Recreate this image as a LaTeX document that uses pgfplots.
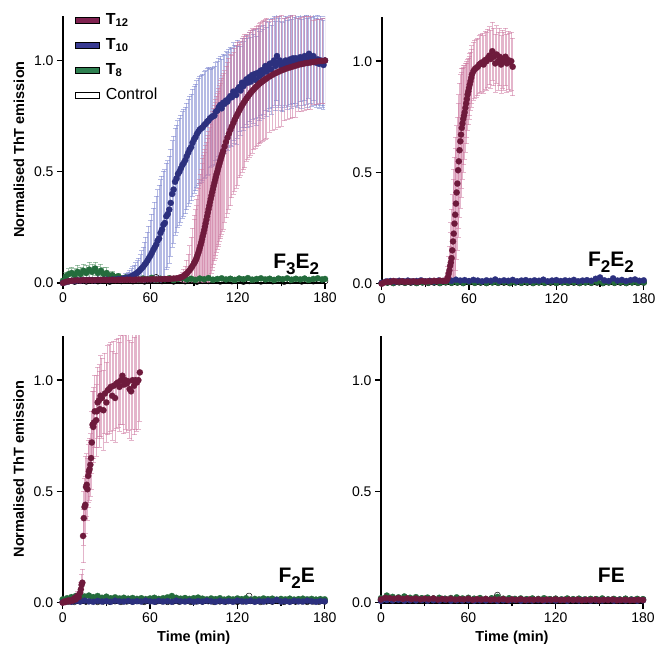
\documentclass[border=0pt]{standalone}
\usepackage{fontspec}
\setmainfont{Liberation Sans}
\usepackage{pgfplots}
\usepackage{pgfplotstable}
\pgfplotsset{compat=1.18}

\definecolor{tA}{RGB}{110,26,60}
\definecolor{tAleg}{RGB}{128,34,80}
\definecolor{tB}{RGB}{44,48,126}
\definecolor{tBleg}{RGB}{56,58,145}
\definecolor{tC}{RGB}{36,108,60}
\definecolor{tCleg}{RGB}{46,128,80}
\definecolor{errA}{RGB}{205,120,160}
\definecolor{errB}{RGB}{120,130,205}
\definecolor{errC}{RGB}{90,150,105}

\newcommand\ticksize{\fontsize{14}{16}\selectfont}
\newcommand\labsize{\fontsize{14.5}{17}\selectfont\bfseries}
\newcommand\panelsize{\fontsize{21}{24}\selectfont\bfseries}
\newcommand\legsize{\fontsize{16}{18}\selectfont}
\newcommand\psub[1]{\raisebox{-6pt}{\fontsize{17}{17}\selectfont #1}}

\pgfplotsset{
  panel/.style={
    scale only axis, width=262pt, height=267pt,
    xmin=0, xmax=180, ymin=0, ymax=1.2,
    axis x line*=bottom, axis y line*=left,
    axis line style={line width=2pt},
    xtick={0,60,120,180}, minor xtick={30,90,150}, ytick={0,0.5,1},
    tick align=outside, major tick length=6pt, minor tick length=3.5pt,
    tick style={black, line width=1.4pt},
    tick label style={font=\ticksize},
    /pgf/number format/assume math mode=true,
    yticklabel style={/pgf/number format/.cd, fixed, fixed zerofill, precision=1},
    xlabel style={at={(axis description cs:0.5,-0.131)}, anchor=center, font=\labsize},
    ylabel style={at={(axis description cs:-0.168,0.5)}, anchor=center, font=\labsize},
    clip=true,
  },
  ebar/.style={forget plot, draw=none, mark=none,
    error bars/.cd, y dir=both, y explicit,
    error bar style={draw=#1, line width=1pt, opacity=0.55, solid},
    error mark options={rotate=90, draw=#1, mark size=2.5pt, line width=0.5pt, opacity=0.55}},
  dots/.style={forget plot, only marks, mark=*, mark size=3.1pt,
    mark options={draw=#1, fill=#1, line width=0.2pt}},
  ctrl/.style={forget plot, only marks, mark=o, mark size=3pt,
    mark options={draw=black, fill=white, line width=0.5pt}},
}

% ---------- F3E2 ----------
\pgfplotstableread{
t y e
0 0.000 0.01
2 0.005 0.01
4 0.008 0.01
6 0.010 0.01
8 0.011 0.01
10 0.012 0.01
12 0.011 0.01
14 0.013 0.01
16 0.012 0.01
18 0.013 0.01
20 0.012 0.01
22 0.013 0.01
24 0.014 0.01
26 0.013 0.01
28 0.014 0.01
30 0.013 0.01
32 0.014 0.01
34 0.014 0.01
36 0.013 0.01
38 0.014 0.01
40 0.015 0.01
42 0.014 0.01
44 0.015 0.01
46 0.015 0.01
48 0.014 0.01
50 0.015 0.01
52 0.016 0.01
54 0.015 0.01
56 0.016 0.01
58 0.016 0.01
60 0.016 0.01
62 0.017 0.01
64 0.016 0.01
66 0.017 0.01
68 0.017 0.01
70 0.018 0.01
72 0.018 0.01
74 0.019 0.01
76 0.020 0.01
78 0.021 0.01
80 0.023 0.01
81 0.025 0.015
82 0.028 0.02
83 0.032 0.03
84 0.037 0.04
85 0.043 0.06
86 0.050 0.08
87 0.058 0.11
88 0.067 0.14
89 0.077 0.17
90 0.088 0.20
90.5 0.094 0.21
91 0.100 0.23
91.5 0.108 0.24
92 0.117 0.26
92.5 0.126 0.27
93 0.136 0.29
93.5 0.147 0.30
94 0.158 0.31
94.5 0.170 0.32
95 0.183 0.33
95.5 0.196 0.34
96 0.210 0.35
96.5 0.224 0.35
97 0.238 0.35
97.5 0.253 0.35
98 0.268 0.35
98.5 0.284 0.35
99 0.300 0.35
99.5 0.316 0.35
100 0.332 0.35
100.5 0.348 0.35
101 0.363 0.35
101.5 0.378 0.35
102 0.393 0.35
102.5 0.408 0.35
103 0.422 0.35
103.5 0.436 0.35
104 0.450 0.35
104.5 0.463 0.35
105 0.476 0.35
105.5 0.489 0.35
106 0.501 0.35
106.5 0.513 0.35
107 0.525 0.35
107.5 0.537 0.35
108 0.549 0.35
108.5 0.560 0.35
109 0.571 0.35
109.5 0.582 0.35
110 0.593 0.35
111 0.614 0.34
112 0.634 0.34
113 0.653 0.34
114 0.671 0.34
115 0.688 0.34
116 0.704 0.32
117 0.719 0.32
118 0.734 0.32
119 0.748 0.32
120 0.761 0.32
121 0.774 0.30
122 0.786 0.30
123 0.798 0.30
124 0.809 0.30
125 0.819 0.30
126 0.829 0.28
127 0.838 0.28
128 0.847 0.28
129 0.855 0.28
130 0.863 0.28
131 0.870 0.27
132 0.877 0.27
133 0.884 0.27
134 0.890 0.27
135 0.896 0.27
136 0.901 0.27
137 0.906 0.27
138 0.911 0.27
139 0.916 0.27
140 0.920 0.27
142 0.928 0.25
144 0.936 0.25
146 0.943 0.25
148 0.949 0.25
150 0.955 0.25
152 0.960 0.23
154 0.965 0.23
156 0.969 0.23
158 0.973 0.23
160 0.977 0.23
162 0.981 0.21
164 0.984 0.21
166 0.987 0.21
168 0.989 0.21
170 0.991 0.21
172 0.993 0.19
174 0.995 0.19
176 0.997 0.19
178 0.998 0.19
180 1.000 0.19
}\pAtw

\pgfplotstableread{
t y e
0 0.000 0.01
2 0.004 0.01
4 0.008 0.01
6 0.010 0.01
8 0.009 0.01
10 0.012 0.01
12 0.011 0.01
14 0.013 0.01
16 0.012 0.01
18 0.014 0.01
20 0.013 0.01
22 0.012 0.01
24 0.015 0.01
26 0.013 0.01
28 0.014 0.01
30 0.015 0.01
32 0.013 0.01
34 0.016 0.01
36 0.015 0.01
38 0.018 0.01
40 0.017 0.01
41 0.020 0.015
42 0.019 0.015
43 0.022 0.02
44 0.024 0.02
45 0.023 0.025
46 0.027 0.03
47 0.030 0.035
48 0.034 0.04
49 0.036 0.045
50 0.042 0.05
51 0.045 0.055
52 0.052 0.06
53 0.058 0.07
54 0.066 0.08
55 0.072 0.09
56 0.082 0.10
57 0.090 0.115
58 0.100 0.13
59 0.112 0.145
60 0.122 0.16
61 0.135 0.175
62 0.148 0.19
63 0.160 0.205
64 0.172 0.22
65 0.190 0.23
66 0.200 0.24
67 0.225 0.24
68 0.240 0.24
69 0.262 0.24
70 0.270 0.24
71 0.300 0.24
72 0.310 0.24
73 0.330 0.24
74 0.360 0.24
75 0.400 0.24
76 0.420 0.24
77 0.455 0.24
78 0.470 0.24
79 0.490 0.24
80 0.500 0.24
81 0.515 0.24
82 0.530 0.24
83 0.540 0.24
84 0.552 0.24
85 0.570 0.24
86 0.585 0.24
87 0.600 0.24
88 0.610 0.24
89 0.630 0.24
90 0.645 0.24
91 0.655 0.24
92 0.670 0.24
93 0.680 0.24
94 0.690 0.24
95 0.695 0.24
96 0.700 0.24
97 0.710 0.24
98 0.715 0.24
99 0.725 0.24
100 0.730 0.24
101 0.740 0.22
102 0.745 0.22
103 0.750 0.22
104 0.752 0.22
105 0.770 0.22
106 0.775 0.22
107 0.790 0.22
108 0.800 0.22
109 0.785 0.22
110 0.810 0.22
111 0.805 0.22
112 0.820 0.22
113 0.815 0.22
114 0.830 0.22
115 0.840 0.22
116 0.835 0.22
117 0.860 0.22
118 0.850 0.22
119 0.845 0.22
120 0.870 0.22
121 0.880 0.20
122 0.865 0.20
123 0.900 0.20
124 0.885 0.20
125 0.900 0.20
126 0.915 0.20
127 0.900 0.20
128 0.925 0.20
129 0.905 0.20
130 0.935 0.20
131 0.920 0.20
132 0.940 0.20
133 0.910 0.20
134 0.945 0.20
135 0.930 0.20
136 0.955 0.20
137 0.940 0.20
138 0.960 0.20
139 0.975 0.20
140 0.950 0.20
141 0.970 0.20
142 0.985 0.20
143 0.960 0.20
144 0.990 0.20
145 1.000 0.20
146 0.975 0.20
147 1.020 0.20
148 0.990 0.20
149 1.000 0.20
150 0.975 0.20
151 0.970 0.20
152 0.990 0.20
153 1.000 0.20
154 0.980 0.20
155 0.995 0.20
156 1.005 0.20
157 0.985 0.20
158 1.010 0.20
159 0.995 0.20
160 1.010 0.20
161 0.990 0.20
162 1.000 0.20
163 1.015 0.20
164 0.985 0.20
165 1.000 0.20
166 1.020 0.20
167 1.005 0.20
168 0.990 0.20
169 1.030 0.20
170 1.010 0.20
171 0.995 0.20
172 1.020 0.20
173 1.000 0.20
174 0.990 0.20
175 1.005 0.20
176 0.985 0.20
177 1.000 0.20
178 0.990 0.20
179 0.980 0.20
180 1.000 0.20
}\pAte

\pgfplotstableread{
t y e
0 0.010 0.01
2 0.030 0.02
4 0.040 0.025
6 0.045 0.025
8 0.035 0.03
10 0.050 0.03
12 0.040 0.03
14 0.055 0.03
16 0.045 0.035
18 0.060 0.035
20 0.050 0.035
22 0.065 0.03
24 0.045 0.03
26 0.055 0.03
28 0.040 0.03
30 0.045 0.025
32 0.030 0.02
34 0.035 0.02
36 0.025 0.015
38 0.030 0.015
40 0.020 0.01
43 0.025 0.01
46 0.018 0.01
49 0.022 0.01
52 0.015 0.01
55 0.020 0.01
58 0.017 0.01
61 0.023 0.01
64 0.015 0.01
67 0.019 0.01
70 0.016 0.01
73 0.021 0.01
76 0.014 0.01
79 0.018 0.01
82 0.022 0.01
85 0.016 0.01
88 0.019 0.01
91 0.014 0.01
94 0.020 0.01
97 0.017 0.01
100 0.022 0.01
103 0.015 0.01
106 0.018 0.01
109 0.021 0.01
112 0.016 0.01
115 0.019 0.01
118 0.014 0.01
121 0.020 0.01
124 0.017 0.01
127 0.022 0.01
130 0.015 0.01
133 0.018 0.01
136 0.021 0.01
139 0.016 0.01
142 0.019 0.01
145 0.014 0.01
148 0.020 0.01
151 0.017 0.01
154 0.021 0.01
157 0.015 0.01
160 0.019 0.01
163 0.016 0.01
166 0.020 0.01
169 0.014 0.01
172 0.018 0.01
175 0.021 0.01
178 0.016 0.01
180 0.018 0.01
}\pAei

\pgfplotstableread{
t y
0 0.004
4 0.008
8 0.006
12 0.010
16 0.007
20 0.012
24 0.008
28 0.010
32 0.006
36 0.011
40 0.009
44 0.013
48 0.008
52 0.010
56 0.007
60 0.012
64 0.025
68 0.009
72 0.011
76 0.007
80 0.010
84 0.008
88 0.012
92 0.006
96 0.010
100 0.009
104 0.011
108 0.007
112 0.010
116 0.008
120 0.012
124 0.006
128 0.009
132 0.011
136 0.007
140 0.010
144 0.008
148 0.012
152 0.006
156 0.009
160 0.011
164 0.007
168 0.010
172 0.008
176 0.011
180 0.009
}\pActl

% ---------- F2E2 ----------
\pgfplotstableread{
t y e
0 0.000 0.01
2 0.006 0.01
4 0.009 0.01
6 0.008 0.01
8 0.012 0.01
10 0.010 0.01
12 0.009 0.01
14 0.011 0.01
16 0.008 0.01
18 0.010 0.01
20 0.009 0.01
22 0.011 0.01
24 0.008 0.01
26 0.010 0.01
28 0.012 0.01
30 0.009 0.01
32 0.011 0.01
34 0.010 0.01
36 0.013 0.01
38 0.011 0.01
40 0.014 0.01
42 0.012 0.01
44 0.012 0.015
44.5 0.015 0.02
45 0.020 0.03
45.5 0.030 0.05
46 0.045 0.08
46.5 0.060 0.11
47 0.080 0.15
47.5 0.095 0.18
48 0.115 0.22
48.5 0.150 0.25
49 0.190 0.28
49.5 0.225 0.29
50 0.270 0.30
50.5 0.310 0.30
51 0.360 0.30
51.5 0.410 0.30
52 0.450 0.30
52.5 0.510 0.30
53 0.550 0.30
53.5 0.600 0.30
54 0.640 0.30
54.5 0.670 0.28
55 0.700 0.27
55.5 0.720 0.25
56 0.740 0.24
56.5 0.755 0.22
57 0.770 0.21
57.5 0.790 0.20
58 0.810 0.18
58.5 0.830 0.17
59 0.850 0.16
59.5 0.865 0.15
60 0.880 0.14
60.5 0.895 0.14
61 0.910 0.13
61.5 0.925 0.13
62 0.940 0.13
63 0.955 0.13
64 0.965 0.13
65 0.970 0.13
66 0.975 0.13
67 0.985 0.13
68 0.990 0.13
69 0.995 0.13
70 0.985 0.13
71 1.005 0.13
72 1.000 0.13
73 1.015 0.13
74 1.025 0.13
75 1.010 0.13
76 1.045 0.13
77 1.020 0.13
78 0.990 0.13
79 1.030 0.13
80 1.000 0.13
81 1.020 0.13
82 0.985 0.13
83 1.010 0.13
84 1.000 0.13
85 1.020 0.13
86 0.990 0.13
87 1.005 0.13
88 0.995 0.13
89 1.000 0.13
90 0.975 0.13
}\pBtw

\pgfplotstableread{
t y
0 0.004
3 0.010
6 0.012
9 0.009
12 0.013
15 0.011
18 0.014
21 0.010
24 0.012
27 0.015
30 0.011
33 0.013
36 0.010
39 0.014
42 0.012
45 0.016
48 0.013
51 0.018
54 0.014
57 0.016
60 0.012
63 0.017
66 0.014
69 0.011
72 0.015
75 0.013
78 0.019
81 0.012
84 0.015
87 0.013
90 0.017
93 0.011
96 0.014
99 0.016
102 0.012
105 0.015
108 0.013
111 0.018
114 0.011
117 0.014
120 0.016
123 0.012
126 0.015
129 0.013
132 0.017
135 0.011
138 0.014
141 0.016
144 0.013
147 0.022
150 0.028
153 0.015
156 0.012
159 0.024
162 0.014
165 0.017
168 0.012
171 0.016
174 0.019
177 0.013
180 0.015
}\pBte

\pgfplotstableread{
t y
0 0.003
4 0.006
8 0.004
12 0.007
16 0.005
20 0.008
24 0.004
28 0.006
32 0.005
36 0.008
40 0.004
44 0.007
48 0.005
52 0.006
56 0.004
60 0.008
64 0.005
68 0.007
72 0.004
76 0.006
80 0.005
84 0.008
88 0.004
92 0.006
96 0.005
100 0.007
104 0.004
108 0.006
112 0.005
116 0.008
120 0.004
124 0.006
128 0.005
132 0.007
136 0.004
140 0.006
144 0.005
148 0.008
152 0.004
156 0.006
160 0.005
164 0.007
168 0.004
172 0.006
176 0.005
180 0.006
}\pBei

\pgfplotstableread{
t y
0 0.002
4 0.005
8 0.003
12 0.006
16 0.004
20 0.005
24 0.003
28 0.006
32 0.004
36 0.005
40 0.003
44 0.006
48 0.004
52 0.005
56 0.003
60 0.006
64 0.004
68 0.005
72 0.003
76 0.006
80 0.004
84 0.005
88 0.003
92 0.006
96 0.004
100 0.005
104 0.003
108 0.006
112 0.004
116 0.005
120 0.003
124 0.006
128 0.004
132 0.005
136 0.003
140 0.006
144 0.004
148 0.005
152 0.003
156 0.006
160 0.004
164 0.005
168 0.003
172 0.006
176 0.004
180 0.005
}\pBctl

% ---------- F2E ----------
\pgfplotstableread{
t y e
0 0.000 0.01
1 0.005 0.01
2 0.003 0.01
3 0.008 0.01
4 0.010 0.01
5 0.006 0.01
6 0.012 0.01
7 0.010 0.01
8 0.020 0.015
9 0.015 0.015
10 0.030 0.02
11 0.025 0.02
12 0.045 0.02
12.5 0.060 0.03
13 0.080 0.05
13.5 0.090 0.06
14 0.300 0.12
14.5 0.380 0.12
15 0.430 0.13
15.5 0.440 0.13
16 0.520 0.14
16.5 0.530 0.14
17 0.510 0.14
17.5 0.570 0.14
18 0.590 0.14
18.5 0.600 0.14
19 0.620 0.14
19.5 0.650 0.14
20 0.720 0.14
20.5 0.800 0.15
21 0.790 0.16
21.5 0.810 0.16
22 0.860 0.16
23 0.820 0.16
23.5 0.860 0.16
24 0.900 0.16
25 0.910 0.16
25.5 0.870 0.17
26 0.930 0.18
27 0.920 0.18
28 0.865 0.18
29 0.940 0.18
30 0.900 0.18
31 0.955 0.20
32 0.960 0.20
33 0.970 0.20
34 0.930 0.20
35 0.975 0.20
36 0.920 0.20
37 0.985 0.20
38 0.990 0.20
39 0.970 0.20
40 1.000 0.20
41 1.020 0.22
42 0.980 0.22
43 1.000 0.22
44 0.985 0.22
45 0.995 0.22
46 0.960 0.22
47 0.950 0.22
48 1.000 0.22
49 0.975 0.22
50 1.000 0.22
51 0.990 0.22
52 1.000 0.22
53 1.035 0.22
}\pCtw

\pgfplotstableread{
t y
0 0.002
3 0.006
6 0.004
9 0.008
12 0.005
15 0.009
18 0.006
21 0.004
24 0.008
27 0.005
30 0.007
33 0.004
36 0.009
39 0.006
42 0.005
45 0.008
48 0.004
51 0.007
54 0.005
57 0.009
60 0.006
63 0.004
66 0.008
69 0.005
72 0.007
75 0.004
78 0.009
81 0.006
84 0.005
87 0.008
90 0.004
93 0.007
96 0.005
99 0.009
102 0.006
105 0.004
108 0.008
111 0.005
114 0.007
117 0.004
120 0.009
123 0.006
126 0.005
129 0.008
132 0.004
135 0.007
138 0.005
141 0.009
144 0.006
147 0.012
150 0.005
153 0.007
156 0.004
159 0.008
162 0.006
165 0.005
168 0.009
171 0.006
174 0.004
177 0.007
180 0.006
}\pCte

\pgfplotstableread{
t y
0 0.015
3 0.020
6 0.025
9 0.030
12 0.022
15 0.028
18 0.032
21 0.025
24 0.030
27 0.022
30 0.027
33 0.020
36 0.024
39 0.019
42 0.022
45 0.018
48 0.021
51 0.017
54 0.020
57 0.016
60 0.019
63 0.022
66 0.017
69 0.020
72 0.024
75 0.030
78 0.022
81 0.018
84 0.021
87 0.017
90 0.020
93 0.023
96 0.018
99 0.015
102 0.019
105 0.016
108 0.020
111 0.014
114 0.018
117 0.015
120 0.019
123 0.016
126 0.020
129 0.014
132 0.017
135 0.015
138 0.019
141 0.016
144 0.018
147 0.014
150 0.017
153 0.015
156 0.018
159 0.014
162 0.016
165 0.018
168 0.015
171 0.017
174 0.014
177 0.016
180 0.015
}\pCei

\pgfplotstableread{
t y
0 0.003
4 0.006
8 0.004
12 0.007
16 0.005
20 0.008
24 0.004
28 0.006
32 0.005
36 0.007
40 0.004
44 0.006
48 0.005
52 0.008
56 0.004
60 0.006
64 0.005
68 0.007
72 0.004
76 0.006
80 0.005
84 0.008
88 0.004
92 0.006
96 0.005
100 0.007
104 0.004
108 0.006
112 0.005
116 0.008
120 0.004
124 0.006
128 0.030
132 0.007
136 0.004
140 0.006
144 0.005
148 0.008
152 0.004
156 0.006
160 0.005
164 0.007
168 0.004
172 0.006
176 0.005
180 0.006
}\pCctl

% ---------- FE ----------
\pgfplotstableread{
t y
0 0.015
3 0.022
6 0.020
9 0.018
12 0.021
15 0.017
18 0.020
21 0.016
24 0.019
27 0.015
30 0.018
33 0.016
36 0.019
39 0.014
42 0.017
45 0.015
48 0.018
51 0.014
54 0.016
57 0.015
60 0.018
63 0.013
66 0.016
69 0.014
72 0.017
75 0.013
78 0.015
81 0.014
84 0.016
87 0.012
90 0.015
93 0.013
96 0.016
99 0.012
102 0.014
105 0.013
108 0.015
111 0.012
114 0.014
117 0.013
120 0.015
123 0.012
126 0.013
129 0.014
132 0.012
135 0.014
138 0.011
141 0.013
144 0.012
147 0.014
150 0.011
153 0.013
156 0.012
159 0.014
162 0.011
165 0.012
168 0.013
171 0.011
174 0.012
177 0.013
180 0.012
}\pDtw

\pgfplotstableread{
t y
0 0.008
4 0.012
8 0.010
12 0.013
16 0.009
20 0.011
24 0.010
28 0.012
32 0.009
36 0.011
40 0.010
44 0.013
48 0.009
52 0.011
56 0.010
60 0.012
64 0.009
68 0.011
72 0.010
76 0.012
80 0.009
84 0.011
88 0.010
92 0.012
96 0.009
100 0.011
104 0.010
108 0.012
112 0.009
116 0.011
120 0.010
124 0.012
128 0.009
132 0.011
136 0.010
140 0.012
144 0.009
148 0.011
152 0.010
156 0.012
160 0.009
164 0.011
168 0.010
172 0.012
176 0.009
180 0.011
}\pDte

\pgfplotstableread{
t y
0 0.020
4 0.032
8 0.026
12 0.024
16 0.028
20 0.022
24 0.025
28 0.020
32 0.023
36 0.019
40 0.022
44 0.018
48 0.021
52 0.024
56 0.019
60 0.022
64 0.018
68 0.021
72 0.017
76 0.020
80 0.026
84 0.018
88 0.020
92 0.017
96 0.019
100 0.016
104 0.019
108 0.017
112 0.020
116 0.016
120 0.018
124 0.015
128 0.019
132 0.016
136 0.018
140 0.015
144 0.017
148 0.016
152 0.019
156 0.015
160 0.017
164 0.014
168 0.018
172 0.015
176 0.017
180 0.016
}\pDei

\pgfplotstableread{
t y
0 0.012
4 0.018
8 0.015
12 0.020
16 0.014
20 0.017
24 0.013
28 0.019
32 0.015
36 0.018
40 0.014
44 0.016
48 0.013
52 0.017
56 0.015
60 0.018
64 0.014
68 0.016
72 0.013
76 0.018
80 0.034
84 0.015
88 0.017
92 0.013
96 0.016
100 0.014
104 0.017
108 0.013
112 0.016
116 0.014
120 0.017
124 0.013
128 0.015
132 0.014
136 0.016
140 0.013
144 0.015
148 0.014
152 0.016
156 0.013
160 0.015
164 0.014
168 0.016
172 0.013
176 0.015
180 0.014
}\pDctl

\begin{document}
\begin{tikzpicture}
\useasboundingbox (0,0) rectangle (657pt,648pt);

% top left: F3E2
\begin{axis}[panel, at={(63pt,365pt)}, anchor=south west,
    ylabel={Normalised ThT emission},
    legend style={at={(0.046,1.018)}, anchor=north west, draw=none, fill=none,
      font=\legsize, row sep=7pt, inner sep=0pt,
      nodes={inner sep=1pt, text height=12pt, text depth=4pt}},
    legend cell align=left,
    legend image code/.code={%
      \draw[#1, draw=black, line width=0.6pt] (0pt,-3pt) rectangle (24pt,3pt);
      \path (29pt,0pt);}]
\addplot[ebar=errC] table[x=t, y=y, y error=e] {\pAei};
\addplot[ebar=errB] table[x=t, y=y, y error=e] {\pAte};
\addplot[ebar=errA] table[x=t, y=y, y error=e] {\pAtw};
\addplot[ctrl] table[x=t, y=y] {\pActl};
\addplot[dots=tC] table[x=t, y=y] {\pAei};
\addplot[dots=tB] table[x=t, y=y] {\pAte};
\addplot[dots=tA] table[x=t, y=y] {\pAtw};
\addlegendimage{fill=tAleg}
\addlegendentry{\textbf{T\textsubscript{12}}}
\addlegendimage{fill=tBleg}
\addlegendentry{\textbf{T\textsubscript{10}}}
\addlegendimage{fill=tCleg}
\addlegendentry{\textbf{T\textsubscript{8}}}
\addlegendimage{fill=white}
\addlegendentry{Control}
\node[anchor=base east, font=\panelsize] at (rel axis cs:0.991,0.056) {F\psub{3}E\psub{2}};
\end{axis}

% top right: F2E2
\begin{axis}[panel, at={(381.7pt,364.3pt)}, anchor=south west]
\addplot[ebar=errA] table[x=t, y=y, y error=e] {\pBtw};
\addplot[ctrl] table[x=t, y=y] {\pBctl};
\addplot[dots=tC] table[x=t, y=y] {\pBei};
\addplot[dots=tB] table[x=t, y=y] {\pBte};
\addplot[dots=tA] table[x=t, y=y] {\pBtw};
\node[anchor=base east, font=\panelsize] at (rel axis cs:0.976,0.064) {F\psub{2}E\psub{2}};
\end{axis}

% bottom left: F2E
\begin{axis}[panel, at={(62.7pt,45.3pt)}, anchor=south west,
    ylabel={Normalised ThT emission}, xlabel={Time (min)}]
\addplot[ebar=errA] table[x=t, y=y, y error=e] {\pCtw};
\addplot[ctrl] table[x=t, y=y] {\pCctl};
\addplot[dots=tC] table[x=t, y=y] {\pCei};
\addplot[dots=tB] table[x=t, y=y] {\pCte};
\addplot[dots=tA] table[x=t, y=y] {\pCtw};
\node[anchor=base east, font=\panelsize] at (rel axis cs:0.976,0.074) {F\psub{2}E};
\end{axis}

% bottom right: FE
\begin{axis}[panel, at={(381pt,45.3pt)}, anchor=south west, xlabel={Time (min)}]
\addplot[ctrl] table[x=t, y=y] {\pDctl};
\addplot[dots=tC] table[x=t, y=y] {\pDei};
\addplot[dots=tB] table[x=t, y=y] {\pDte};
\addplot[dots=tA] table[x=t, y=y] {\pDtw};
\node[anchor=base east, font=\panelsize] at (rel axis cs:0.944,0.074) {FE};
\end{axis}
\end{tikzpicture}
\end{document}
